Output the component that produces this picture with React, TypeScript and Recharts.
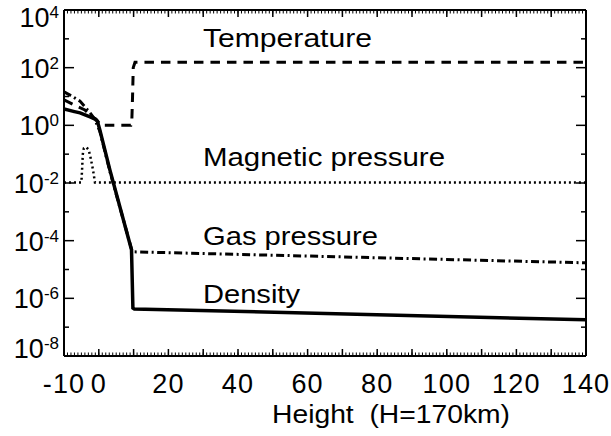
import React from 'react';
import { LineChart, Line, XAxis, YAxis } from 'recharts';

// ---- data (height in units of H) ----
const densityH = [-10, -7, -5.4, -2.5, -1.1, -0.4, 0.3, 3.2, 9.4, 9.8, 10.2, 140];
const densityV = [3.7, 3.0, 2.7, 1.95, 1.65, 1.4, 0.69, 0.028, 4.8e-5, 4.6e-7, 4.3e-7, 1.8e-7];

const gasH = [-10, -8.3, -5.4, -2.5, -1.2, 0.3, 3.2, 9.5, 10.2, 140];
const gasV = [14.5, 11.2, 6.9, 2.7, 1.66, 0.63, 0.025, 4.6e-5, 4.1e-5, 1.7e-5];

const tempH = [-10, -7, -4, -2, -0.8, 0.6, 9.2, 9.5, 9.7, 9.9, 10.4, 140];
const tempV = [7.6, 5.0, 3.4, 2.0, 1.65, 1.0, 1.0, 1.6, 10, 100, 155, 155];

const magH = [-10, -5.0, -4.8, -4.6, -4.3, -3.6, -2.9, -2.3, -1.7, -1.1, 140];
const magV = [0.0105, 0.0105, 0.03, 0.1, 0.16, 0.175, 0.14, 0.07, 0.03, 0.0105, 0.0105];

// ---- axis ticks ----
const xLabelTicks = [-10, 0, 20, 40, 60, 80, 100, 120, 140];
const xMajorTicks = [-10, 0, 10, 20, 30, 40, 50, 60, 70, 80, 90, 100, 110, 120, 130, 140];
const xMinorTicks = Array.from({ length: 151 }, (_, i) => i - 10);
const yLabelTicks = [1e-8, 1e-6, 1e-4, 1e-2, 1, 1e2, 1e4];
const yLabelExps = ['-8', '-6', '-4', '-2', '0', '2', '4'];
const yMinorTicks = [1e-7, 1e-5, 1e-3, 1e-1, 1e1, 1e3];

// ---- series labels ----
const seriesLabels = ['Temperature', 'Magnetic pressure', 'Gas pressure', 'Density'];
const xTitle = 'Height  (H=170km)';

const rows = (h: number[], v: number[]) => h.map((x, i) => ({ h: x, v: v[i] }));
const densityData = rows(densityH, densityV);
const gasData = rows(gasH, gasV);
const tempData = rows(tempH, tempV);
const magData = rows(magH, magV);

const FONT = '"Liberation Sans", Arial, Helvetica, sans-serif';
const X_DOMAIN: [number, number] = [-10, 140];
const Y_DOMAIN: [number, number] = [1e-8, 1e4];
const TINY = 0.01;

const YTick = (props: any) => {
  const { x, y, payload } = props;
  const idx = yLabelTicks.findIndex((t) => Math.abs(Math.log10(t) - Math.log10(payload.value)) < 1e-6);
  const exp = yLabelExps[idx] ?? '';
  const dy = exp === '4' ? 16.5 : exp === '-8' ? 1.5 : 10;
  return (
    <text x={x} y={y + dy} textAnchor="end" fontFamily={FONT} fontSize={27} fill="#000">
      <tspan>10</tspan>
      <tspan dy={-9} fontSize={17}>{exp}</tspan>
    </text>
  );
};

const XTick = (props: any) => {
  const { x, y, payload } = props;
  return (
    <text x={x} y={y + 37} textAnchor="middle" fontFamily={FONT} fontSize={27} letterSpacing={1.2} fill="#000">
      {String(payload.value)}
    </text>
  );
};

const EmptyTick = () => <g />;

const tickStroke = { stroke: '#000', strokeWidth: 1.5 };
const minorStroke = { stroke: '#000', strokeWidth: 1 };
const axisStroke = { stroke: '#000', strokeWidth: 2 };

export default function App() {
  const labelPos = [
    { x: 203, y: 47, len: 169 },
    { x: 203, y: 166, len: 242 },
    { x: 203, y: 245, len: 175 },
    { x: 203, y: 303, len: 97 },
  ];
  return (
    <div style={{ position: 'absolute', left: 0, top: 0, width: 611, height: 436, background: '#fff' }}>
      <LineChart width={611} height={436} margin={{ top: 10, right: 25, bottom: 0, left: 0 }}>
        {/* main labelled axes */}
        <XAxis
          xAxisId="main"
          dataKey="h"
          type="number"
          domain={X_DOMAIN}
          allowDataOverflow
          ticks={xLabelTicks}
          interval={0}
          height={80}
          tickSize={0}
          tickMargin={0}
          tickLine={false}
          axisLine={axisStroke}
          tick={<XTick />}
        />
        <YAxis
          yAxisId="main"
          type="number"
          scale="log"
          domain={Y_DOMAIN}
          allowDataOverflow
          ticks={yLabelTicks}
          interval={0}
          width={64}
          tickSize={0}
          tickMargin={5}
          tickLine={false}
          axisLine={axisStroke}
          tick={<YTick />}
        />
        {/* inward tick marks: bottom */}
        <XAxis xAxisId="bMaj" dataKey="h" type="number" domain={X_DOMAIN} allowDataOverflow orientation="bottom" mirror height={TINY}
          ticks={xMajorTicks} interval={0} tickSize={7} tick={<EmptyTick />} tickLine={tickStroke} axisLine={false} />
        <XAxis xAxisId="bMin" dataKey="h" type="number" domain={X_DOMAIN} allowDataOverflow orientation="bottom" mirror height={TINY}
          ticks={xMinorTicks} interval={0} tickSize={3.5} tick={<EmptyTick />} tickLine={minorStroke} axisLine={false} />
        {/* top */}
        <XAxis xAxisId="tMaj" dataKey="h" type="number" domain={X_DOMAIN} allowDataOverflow orientation="top" mirror height={TINY}
          ticks={xMajorTicks} interval={0} tickSize={7} tick={<EmptyTick />} tickLine={tickStroke} axisLine={axisStroke} />
        <XAxis xAxisId="tMin" dataKey="h" type="number" domain={X_DOMAIN} allowDataOverflow orientation="top" mirror height={TINY}
          ticks={xMinorTicks} interval={0} tickSize={3.5} tick={<EmptyTick />} tickLine={minorStroke} axisLine={false} />
        {/* left */}
        <YAxis yAxisId="lMaj" type="number" scale="log" domain={Y_DOMAIN} allowDataOverflow orientation="left" mirror width={TINY}
          ticks={yLabelTicks} interval={0} tickSize={10} tick={<EmptyTick />} tickLine={tickStroke} axisLine={false} />
        <YAxis yAxisId="lMin" type="number" scale="log" domain={Y_DOMAIN} allowDataOverflow orientation="left" mirror width={TINY}
          ticks={yMinorTicks} interval={0} tickSize={5} tick={<EmptyTick />} tickLine={tickStroke} axisLine={false} />
        {/* right */}
        <YAxis yAxisId="rMaj" type="number" scale="log" domain={Y_DOMAIN} allowDataOverflow orientation="right" mirror width={TINY}
          ticks={yLabelTicks} interval={0} tickSize={10} tick={<EmptyTick />} tickLine={tickStroke} axisLine={axisStroke} />
        <YAxis yAxisId="rMin" type="number" scale="log" domain={Y_DOMAIN} allowDataOverflow orientation="right" mirror width={TINY}
          ticks={yMinorTicks} interval={0} tickSize={5} tick={<EmptyTick />} tickLine={tickStroke} axisLine={false} />

        <Line data={magData} dataKey="v" xAxisId="main" yAxisId="main" type="linear" stroke="#000" strokeWidth={2.5}
          strokeDasharray="2 3" dot={false} activeDot={false} isAnimationActive={false} />
        <Line data={tempData} dataKey="v" xAxisId="main" yAxisId="main" type="linear" stroke="#000" strokeWidth={3}
          strokeDasharray="9.5 7" dot={false} activeDot={false} isAnimationActive={false} />
        <Line data={gasData} dataKey="v" xAxisId="main" yAxisId="main" type="linear" stroke="#000" strokeWidth={3}
          strokeDasharray="8 3.5 2 3.5" dot={false} activeDot={false} isAnimationActive={false} />
        <Line data={densityData} dataKey="v" xAxisId="main" yAxisId="main" type="linear" stroke="#000" strokeWidth={3.5}
          dot={false} activeDot={false} isAnimationActive={false} />
      </LineChart>
      <svg width={611} height={436} style={{ position: 'absolute', left: 0, top: 0, pointerEvents: 'none' }}>
        {seriesLabels.map((s, i) => (
          <text key={s} x={labelPos[i].x} y={labelPos[i].y} fontFamily={FONT} fontSize={26} fill="#000"
            textLength={labelPos[i].len} lengthAdjust="spacingAndGlyphs">
            {s}
          </text>
        ))}
        <text x={272} y={423} fontFamily={FONT} fontSize={26} fill="#000" textLength={238} lengthAdjust="spacingAndGlyphs"
          style={{ whiteSpace: 'pre' }}>
          {xTitle}
        </text>
      </svg>
    </div>
  );
}
